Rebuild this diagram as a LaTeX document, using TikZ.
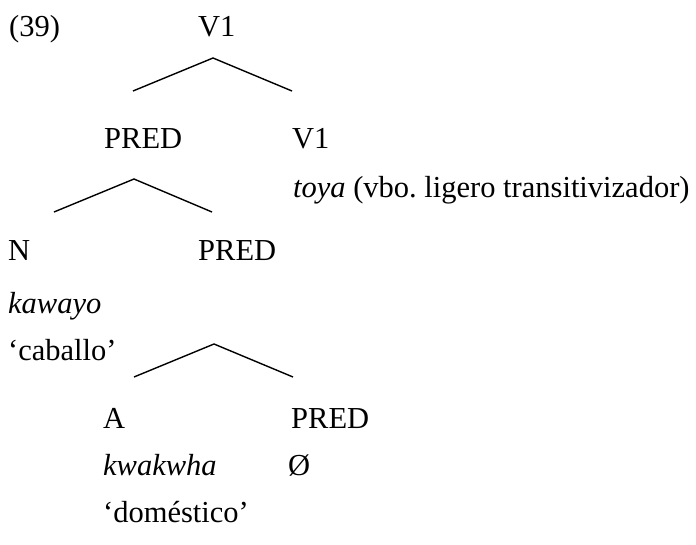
\documentclass[tikz,border=0pt]{standalone}
\usepackage{fontspec}
\setmainfont{Liberation Serif}
\usepackage{tikz}
\usetikzlibrary{positioning}
\usetikzlibrary{calc}
\frenchspacing
\tikzset{
  % labels sit on their baseline, left aligned
  label/.style={anchor=base west, inner sep=0pt, font=\fontsize{30.5}{36}\selectfont},
  gloss/.style={label, font=\fontsize{30.5}{36}\selectfont\itshape},
  branch/.style={draw, line width=1.4pt, line join=miter}
}

\begin{document}
\begin{tikzpicture}[x=1pt, y=-1pt]
    \useasboundingbox (0,0) rectangle (696,544);

    % Place nodes
    \node [label] (num) at (9,36) {(39)};
    \node [label] (v1top) at (198,36) {V1};
    \node [label] (predtop) at (104,148) {PRED};
    \node [label] (v1) at (292,148) {V1};
    \node [gloss] (toya) at (293,197) {toya \upshape(vbo. ligero transitivizador)};
    \node [label] (n) at (8,260) {N};
    \node [label] (predmid) at (198,260) {PRED};
    \node [gloss] (kawayo) at (8,313) {kawayo};
    \node [label] (caballo) at (8,360) {‘caballo’};
    \node [label] (a) at (103,428) {A};
    \node [label] (predlow) at (291,428) {PRED};
    \node [gloss] (kwakwha) at (103,475) {kwakwha};
    \node [label] (zero) at (288,475) {Ø};
    \node [label] (domestico) at (103,522) {‘doméstico’};

    % Branch points
    \coordinate (top1) at (213,58);
    \coordinate (l1) at (133,91);
    \coordinate (r1) at (292,91);
    \coordinate (top2) at (134,179);
    \coordinate (l2) at (54,212);
    \coordinate (r2) at (212,212);
    \coordinate (top3) at (214,344);
    \coordinate (l3) at (134,377);
    \coordinate (r3) at (293,377);

    % Draw branches
    \path [branch] (l1) -- (top1) -- (r1);
    \path [branch] (l2) -- (top2) -- (r2);
    \path [branch] (l3) -- (top3) -- (r3);
\end{tikzpicture}
\end{document}
